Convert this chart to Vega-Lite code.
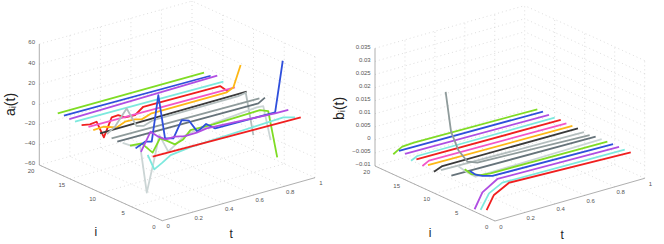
{"$schema":"https://vega.github.io/schema/vega-lite/v6.json","width":664,"height":244,"padding":0,"autosize":{"type":"fit","contains":"padding"},"background":"white","config":{"view":{"stroke":null}},
"datasets":{
"curves":[
{"p":"a","i":17,"t":0,"z":-0.5},{"p":"a","i":17,"t":0.958,"z":-1},
{"p":"a","i":16,"t":0,"z":0},{"p":"a","i":16,"t":0.961,"z":-1.4},
{"p":"a","i":15,"t":-0.005,"z":-0.4},{"p":"a","i":15,"t":0.964,"z":1.3},
{"p":"a","i":14,"t":-0.008,"z":-0.1},{"p":"a","i":14,"t":0.964,"z":-1.9},
{"p":"a","i":13,"t":-0.005,"z":-0.8},{"p":"a","i":13,"t":0.05,"z":-2.5},{"p":"a","i":13,"t":0.093,"z":-1.7},{"p":"a","i":13,"t":0.141,"z":-19.3},{"p":"a","i":13,"t":0.192,"z":-1.6},{"p":"a","i":13,"t":0.235,"z":-1.2},{"p":"a","i":13,"t":0.279,"z":-5.3},{"p":"a","i":13,"t":0.345,"z":-5.8},{"p":"a","i":13,"t":0.399,"z":0.1},{"p":"a","i":13,"t":0.465,"z":0},{"p":"a","i":13,"t":0.902,"z":-0.8},{"p":"a","i":13,"t":0.956,"z":-8.8},
{"p":"a","i":12,"t":0,"z":0},{"p":"a","i":12,"t":0.959,"z":-1.8},
{"p":"a","i":11,"t":-0.009,"z":-0.1},{"p":"a","i":11,"t":0.057,"z":0.4},{"p":"a","i":11,"t":0.144,"z":-4},{"p":"a","i":11,"t":0.199,"z":-0.7},{"p":"a","i":11,"t":0.264,"z":-1.1},{"p":"a","i":11,"t":0.308,"z":-3},{"p":"a","i":11,"t":0.373,"z":0.2},{"p":"a","i":11,"t":0.865,"z":0},{"p":"a","i":11,"t":0.908,"z":3.1},{"p":"a","i":11,"t":0.956,"z":23.2},
{"p":"a","i":10,"t":-0.005,"z":-0.8},{"p":"a","i":10,"t":0.955,"z":-0.4},
{"p":"a","i":9,"t":0,"z":1.1},{"p":"a","i":9,"t":0.052,"z":6.2},{"p":"a","i":9,"t":0.129,"z":21},{"p":"a","i":9,"t":0.194,"z":0.8},{"p":"a","i":9,"t":0.242,"z":-1},{"p":"a","i":9,"t":0.304,"z":2},{"p":"a","i":9,"t":0.86,"z":2},{"p":"a","i":9,"t":0.909,"z":3.3},{"p":"a","i":9,"t":0.959,"z":-40.8},
{"p":"a","i":8,"t":-0.01,"z":0},{"p":"a","i":8,"t":0.958,"z":-1.6},
{"p":"a","i":7,"t":-0.013,"z":-0.4},{"p":"a","i":7,"t":0.911,"z":-1.8},{"p":"a","i":7,"t":0.954,"z":2},
{"p":"a","i":6,"t":-0.018,"z":1.5},{"p":"a","i":6,"t":0.041,"z":-4},{"p":"a","i":6,"t":0.096,"z":-5.6},{"p":"a","i":6,"t":0.14,"z":-54.7},{"p":"a","i":6,"t":0.188,"z":-24.4},{"p":"a","i":6,"t":0.222,"z":-1},{"p":"a","i":6,"t":0.281,"z":-20},{"p":"a","i":6,"t":0.325,"z":-15.4},{"p":"a","i":6,"t":0.384,"z":-9},{"p":"a","i":6,"t":0.445,"z":-7},{"p":"a","i":6,"t":0.51,"z":-6.8},{"p":"a","i":6,"t":0.576,"z":-4.6},{"p":"a","i":6,"t":0.86,"z":-0.9},{"p":"a","i":6,"t":0.903,"z":-1.4},{"p":"a","i":6,"t":0.951,"z":-37.2},
{"p":"a","i":5,"t":-0.01,"z":1},{"p":"a","i":5,"t":0.066,"z":0.1},{"p":"a","i":5,"t":0.138,"z":-12.2},{"p":"a","i":5,"t":0.186,"z":-0.1},{"p":"a","i":5,"t":0.229,"z":-4.2},{"p":"a","i":5,"t":0.284,"z":-10.2},{"p":"a","i":5,"t":0.338,"z":-7.6},{"p":"a","i":5,"t":0.386,"z":-0.4},{"p":"a","i":5,"t":0.535,"z":-1.1},{"p":"a","i":5,"t":0.841,"z":0.1},{"p":"a","i":5,"t":0.895,"z":-3.2},{"p":"a","i":5,"t":0.954,"z":-51.7},
{"p":"a","i":4,"t":-0.014,"z":1.3},{"p":"a","i":4,"t":0.048,"z":5.3},{"p":"a","i":4,"t":0.092,"z":3.4},{"p":"a","i":4,"t":0.135,"z":47.8},{"p":"a","i":4,"t":0.179,"z":3},{"p":"a","i":4,"t":0.234,"z":0.7},{"p":"a","i":4,"t":0.288,"z":16.5},{"p":"a","i":4,"t":0.336,"z":13.8},{"p":"a","i":4,"t":0.391,"z":0.6},{"p":"a","i":4,"t":0.448,"z":5.8},{"p":"a","i":4,"t":0.507,"z":-1.1},{"p":"a","i":4,"t":0.9,"z":-2},{"p":"a","i":4,"t":0.95,"z":47.1},
{"p":"a","i":3,"t":-0.019,"z":0.7},{"p":"a","i":3,"t":0.044,"z":18.1},{"p":"a","i":3,"t":0.095,"z":11},{"p":"a","i":3,"t":0.143,"z":6.3},{"p":"a","i":3,"t":0.204,"z":6.4},{"p":"a","i":3,"t":0.269,"z":4.2},{"p":"a","i":3,"t":0.346,"z":4.3},{"p":"a","i":3,"t":0.411,"z":5.8},{"p":"a","i":3,"t":0.859,"z":1.6},{"p":"a","i":3,"t":0.946,"z":1.2},
{"p":"a","i":2,"t":-0.015,"z":0.3},{"p":"a","i":2,"t":0.028,"z":-15.8},{"p":"a","i":2,"t":0.081,"z":-11.4},{"p":"a","i":2,"t":0.135,"z":-6.2},{"p":"a","i":2,"t":0.273,"z":-3.8},{"p":"a","i":2,"t":0.873,"z":-0.3},{"p":"a","i":2,"t":0.95,"z":-3.5},
{"p":"a","i":1,"t":-0.023,"z":1.7},{"p":"a","i":1,"t":0.947,"z":-0.7},
{"p":"b","i":17,"t":0.002,"z":-0.0024},{"p":"b","i":17,"t":0.029,"z":-0.00145},{"p":"b","i":17,"t":0.062,"z":-0.00046},{"p":"b","i":17,"t":0.14,"z":-0.0002},{"p":"b","i":17,"t":0.964,"z":-0.0009},
{"p":"b","i":16,"t":0,"z":0},{"p":"b","i":16,"t":0.962,"z":-0.0007},
{"p":"b","i":15,"t":0,"z":-0.0001},{"p":"b","i":15,"t":0.962,"z":-0.0009},
{"p":"b","i":14,"t":0,"z":-0.00165},{"p":"b","i":14,"t":0.042,"z":-0.00055},{"p":"b","i":14,"t":0.96,"z":-0.0009},
{"p":"b","i":13,"t":-0.004,"z":0},{"p":"b","i":13,"t":0.96,"z":-0.0007},
{"p":"b","i":12,"t":-0.004,"z":-0.0015},{"p":"b","i":12,"t":0.04,"z":-0.0002},{"p":"b","i":12,"t":0.958,"z":-0.0009},
{"p":"b","i":11,"t":-0.007,"z":-0.0001},{"p":"b","i":11,"t":0.958,"z":-0.00085},
{"p":"b","i":10,"t":-0.007,"z":-0.0016},{"p":"b","i":10,"t":0.049,"z":-0.0003},{"p":"b","i":10,"t":0.955,"z":-0.00066},
{"p":"b","i":9,"t":0,"z":0},{"p":"b","i":9,"t":0.955,"z":-0.0011},
{"p":"b","i":8,"t":-0.009,"z":0.0311},{"p":"b","i":8,"t":0.027,"z":0.0153},{"p":"b","i":8,"t":0.076,"z":0.0074},{"p":"b","i":8,"t":0.136,"z":0.0021},{"p":"b","i":8,"t":0.203,"z":0.0006},{"p":"b","i":8,"t":0.953,"z":-0.0011},
{"p":"b","i":7,"t":-0.011,"z":0.0002},{"p":"b","i":7,"t":0.953,"z":-0.00066},
{"p":"b","i":6,"t":-0.007,"z":0.0048},{"p":"b","i":6,"t":0.056,"z":0.0013},{"p":"b","i":6,"t":0.111,"z":-0.0012},{"p":"b","i":6,"t":0.189,"z":-0.0012},{"p":"b","i":6,"t":0.953,"z":-0.0006},
{"p":"b","i":5,"t":-0.002,"z":0.0046},{"p":"b","i":5,"t":0.042,"z":0.002},{"p":"b","i":5,"t":0.105,"z":0.0006},{"p":"b","i":5,"t":0.171,"z":0.0002},{"p":"b","i":5,"t":0.951,"z":-0.0004},
{"p":"b","i":4,"t":-0.007,"z":0.005},{"p":"b","i":4,"t":0.031,"z":0.003},{"p":"b","i":4,"t":0.076,"z":0.0018},{"p":"b","i":4,"t":0.143,"z":0.0007},{"p":"b","i":4,"t":0.949,"z":-0.00035},
{"p":"b","i":3,"t":-0.016,"z":-0.0084},{"p":"b","i":3,"t":0.036,"z":-0.0028},{"p":"b","i":3,"t":0.136,"z":0.0007},{"p":"b","i":3,"t":0.949,"z":-0.00033},
{"p":"b","i":2,"t":-0.016,"z":-0.0076},{"p":"b","i":2,"t":0.04,"z":-0.0022},{"p":"b","i":2,"t":0.129,"z":0.00046},{"p":"b","i":2,"t":0.947,"z":-0.00027},
{"p":"b","i":1,"t":-0.016,"z":-0.0066},{"p":"b","i":1,"t":0.033,"z":-0.00164},{"p":"b","i":1,"t":0.134,"z":0.0014},{"p":"b","i":1,"t":0.947,"z":-0.00023}
],
"frame":[
{"p":"a","t":0,"i":0,"z":-60,"t2":0,"i2":20,"z2":-60},{"p":"a","t":0.2,"i":0,"z":-60,"t2":0.2,"i2":20,"z2":-60},{"p":"a","t":0.4,"i":0,"z":-60,"t2":0.4,"i2":20,"z2":-60},{"p":"a","t":0.6,"i":0,"z":-60,"t2":0.6,"i2":20,"z2":-60},{"p":"a","t":0.8,"i":0,"z":-60,"t2":0.8,"i2":20,"z2":-60},{"p":"a","t":1,"i":0,"z":-60,"t2":1,"i2":20,"z2":-60},
{"p":"a","t":0,"i":5,"z":-60,"t2":1,"i2":5,"z2":-60},{"p":"a","t":0,"i":10,"z":-60,"t2":1,"i2":10,"z2":-60},{"p":"a","t":0,"i":15,"z":-60,"t2":1,"i2":15,"z2":-60},{"p":"a","t":0,"i":20,"z":-60,"t2":1,"i2":20,"z2":-60},
{"p":"a","t":0.2,"i":20,"z":-60,"t2":0.2,"i2":20,"z2":60},{"p":"a","t":0.4,"i":20,"z":-60,"t2":0.4,"i2":20,"z2":60},{"p":"a","t":0.6,"i":20,"z":-60,"t2":0.6,"i2":20,"z2":60},{"p":"a","t":0.8,"i":20,"z":-60,"t2":0.8,"i2":20,"z2":60},{"p":"a","t":1,"i":20,"z":-60,"t2":1,"i2":20,"z2":60},
{"p":"a","t":0,"i":20,"z":-40,"t2":1,"i2":20,"z2":-40},{"p":"a","t":0,"i":20,"z":-20,"t2":1,"i2":20,"z2":-20},{"p":"a","t":0,"i":20,"z":0,"t2":1,"i2":20,"z2":0},{"p":"a","t":0,"i":20,"z":20,"t2":1,"i2":20,"z2":20},{"p":"a","t":0,"i":20,"z":40,"t2":1,"i2":20,"z2":40},{"p":"a","t":0,"i":20,"z":60,"t2":1,"i2":20,"z2":60},
{"p":"a","t":1,"i":0,"z":-60,"t2":1,"i2":0,"z2":60},{"p":"a","t":1,"i":5,"z":-60,"t2":1,"i2":5,"z2":60},{"p":"a","t":1,"i":10,"z":-60,"t2":1,"i2":10,"z2":60},{"p":"a","t":1,"i":15,"z":-60,"t2":1,"i2":15,"z2":60},
{"p":"a","t":1,"i":0,"z":-40,"t2":1,"i2":20,"z2":-40},{"p":"a","t":1,"i":0,"z":-20,"t2":1,"i2":20,"z2":-20},{"p":"a","t":1,"i":0,"z":0,"t2":1,"i2":20,"z2":0},{"p":"a","t":1,"i":0,"z":20,"t2":1,"i2":20,"z2":20},{"p":"a","t":1,"i":0,"z":40,"t2":1,"i2":20,"z2":40},{"p":"a","t":1,"i":0,"z":60,"t2":1,"i2":20,"z2":60},
{"p":"b","t":0,"i":0,"z":-0.01,"t2":0,"i2":20,"z2":-0.01},{"p":"b","t":0.2,"i":0,"z":-0.01,"t2":0.2,"i2":20,"z2":-0.01},{"p":"b","t":0.4,"i":0,"z":-0.01,"t2":0.4,"i2":20,"z2":-0.01},{"p":"b","t":0.6,"i":0,"z":-0.01,"t2":0.6,"i2":20,"z2":-0.01},{"p":"b","t":0.8,"i":0,"z":-0.01,"t2":0.8,"i2":20,"z2":-0.01},{"p":"b","t":1,"i":0,"z":-0.01,"t2":1,"i2":20,"z2":-0.01},
{"p":"b","t":0,"i":5,"z":-0.01,"t2":1,"i2":5,"z2":-0.01},{"p":"b","t":0,"i":10,"z":-0.01,"t2":1,"i2":10,"z2":-0.01},{"p":"b","t":0,"i":15,"z":-0.01,"t2":1,"i2":15,"z2":-0.01},{"p":"b","t":0,"i":20,"z":-0.01,"t2":1,"i2":20,"z2":-0.01},
{"p":"b","t":0.2,"i":20,"z":-0.01,"t2":0.2,"i2":20,"z2":0.035},{"p":"b","t":0.4,"i":20,"z":-0.01,"t2":0.4,"i2":20,"z2":0.035},{"p":"b","t":0.6,"i":20,"z":-0.01,"t2":0.6,"i2":20,"z2":0.035},{"p":"b","t":0.8,"i":20,"z":-0.01,"t2":0.8,"i2":20,"z2":0.035},{"p":"b","t":1,"i":20,"z":-0.01,"t2":1,"i2":20,"z2":0.035},
{"p":"b","t":0,"i":20,"z":-0.005,"t2":1,"i2":20,"z2":-0.005},{"p":"b","t":0,"i":20,"z":0,"t2":1,"i2":20,"z2":0},{"p":"b","t":0,"i":20,"z":0.005,"t2":1,"i2":20,"z2":0.005},{"p":"b","t":0,"i":20,"z":0.01,"t2":1,"i2":20,"z2":0.01},{"p":"b","t":0,"i":20,"z":0.015,"t2":1,"i2":20,"z2":0.015},{"p":"b","t":0,"i":20,"z":0.02,"t2":1,"i2":20,"z2":0.02},{"p":"b","t":0,"i":20,"z":0.025,"t2":1,"i2":20,"z2":0.025},{"p":"b","t":0,"i":20,"z":0.03,"t2":1,"i2":20,"z2":0.03},{"p":"b","t":0,"i":20,"z":0.035,"t2":1,"i2":20,"z2":0.035},
{"p":"b","t":1,"i":0,"z":-0.01,"t2":1,"i2":0,"z2":0.035},{"p":"b","t":1,"i":5,"z":-0.01,"t2":1,"i2":5,"z2":0.035},{"p":"b","t":1,"i":10,"z":-0.01,"t2":1,"i2":10,"z2":0.035},{"p":"b","t":1,"i":15,"z":-0.01,"t2":1,"i2":15,"z2":0.035},
{"p":"b","t":1,"i":0,"z":-0.005,"t2":1,"i2":20,"z2":-0.005},{"p":"b","t":1,"i":0,"z":0,"t2":1,"i2":20,"z2":0},{"p":"b","t":1,"i":0,"z":0.005,"t2":1,"i2":20,"z2":0.005},{"p":"b","t":1,"i":0,"z":0.01,"t2":1,"i2":20,"z2":0.01},{"p":"b","t":1,"i":0,"z":0.015,"t2":1,"i2":20,"z2":0.015},{"p":"b","t":1,"i":0,"z":0.02,"t2":1,"i2":20,"z2":0.02},{"p":"b","t":1,"i":0,"z":0.025,"t2":1,"i2":20,"z2":0.025},{"p":"b","t":1,"i":0,"z":0.03,"t2":1,"i2":20,"z2":0.03},{"p":"b","t":1,"i":0,"z":0.035,"t2":1,"i2":20,"z2":0.035}
],
"axes":[
{"p":"a","t":0,"i":20,"z":-60,"t2":0,"i2":20,"z2":60},{"p":"a","t":0,"i":0,"z":-60,"t2":0,"i2":20,"z2":-60},{"p":"a","t":0,"i":0,"z":-60,"t2":1,"i2":0,"z2":-60},
{"p":"b","t":0,"i":20,"z":-0.01,"t2":0,"i2":20,"z2":0.035},{"p":"b","t":0,"i":0,"z":-0.01,"t2":0,"i2":20,"z2":-0.01},{"p":"b","t":0,"i":0,"z":-0.01,"t2":1,"i2":0,"z2":-0.01}
],
"labels":[
{"p":"a","axis":"z","t":0,"i":20,"z":60,"label":"60"},{"p":"a","axis":"z","t":0,"i":20,"z":40,"label":"40"},{"p":"a","axis":"z","t":0,"i":20,"z":20,"label":"20"},{"p":"a","axis":"z","t":0,"i":20,"z":0,"label":"0"},{"p":"a","axis":"z","t":0,"i":20,"z":-20,"label":"−20"},{"p":"a","axis":"z","t":0,"i":20,"z":-40,"label":"−40"},{"p":"a","axis":"z","t":0,"i":20,"z":-60,"label":"−60"},
{"p":"a","axis":"i","t":0,"i":20,"z":-60,"label":"20"},{"p":"a","axis":"i","t":0,"i":15,"z":-60,"label":"15"},{"p":"a","axis":"i","t":0,"i":10,"z":-60,"label":"10"},{"p":"a","axis":"i","t":0,"i":5,"z":-60,"label":"5"},{"p":"a","axis":"i","t":0,"i":0,"z":-60,"label":"0"},
{"p":"a","axis":"t","t":0,"i":0,"z":-60,"label":"0"},{"p":"a","axis":"t","t":0.2,"i":0,"z":-60,"label":"0.2"},{"p":"a","axis":"t","t":0.4,"i":0,"z":-60,"label":"0.4"},{"p":"a","axis":"t","t":0.6,"i":0,"z":-60,"label":"0.6"},{"p":"a","axis":"t","t":0.8,"i":0,"z":-60,"label":"0.8"},{"p":"a","axis":"t","t":1,"i":0,"z":-60,"label":"1"},
{"p":"b","axis":"z","t":0,"i":20,"z":0.035,"label":"0.035"},{"p":"b","axis":"z","t":0,"i":20,"z":0.03,"label":"0.03"},{"p":"b","axis":"z","t":0,"i":20,"z":0.025,"label":"0.025"},{"p":"b","axis":"z","t":0,"i":20,"z":0.02,"label":"0.02"},{"p":"b","axis":"z","t":0,"i":20,"z":0.015,"label":"0.015"},{"p":"b","axis":"z","t":0,"i":20,"z":0.01,"label":"0.01"},{"p":"b","axis":"z","t":0,"i":20,"z":0.005,"label":"0.005"},{"p":"b","axis":"z","t":0,"i":20,"z":0,"label":"0"},{"p":"b","axis":"z","t":0,"i":20,"z":-0.005,"label":"−0.005"},{"p":"b","axis":"z","t":0,"i":20,"z":-0.01,"label":"−0.01"},
{"p":"b","axis":"i","t":0,"i":20,"z":-0.01,"label":"20"},{"p":"b","axis":"i","t":0,"i":15,"z":-0.01,"label":"15"},{"p":"b","axis":"i","t":0,"i":10,"z":-0.01,"label":"10"},{"p":"b","axis":"i","t":0,"i":5,"z":-0.01,"label":"5"},{"p":"b","axis":"i","t":0,"i":0,"z":-0.01,"label":"0"},
{"p":"b","axis":"t","t":0,"i":0,"z":-0.01,"label":"0"},{"p":"b","axis":"t","t":0.2,"i":0,"z":-0.01,"label":"0.2"},{"p":"b","axis":"t","t":0.4,"i":0,"z":-0.01,"label":"0.4"},{"p":"b","axis":"t","t":0.6,"i":0,"z":-0.01,"label":"0.6"},{"p":"b","axis":"t","t":0.8,"i":0,"z":-0.01,"label":"0.8"},{"p":"b","axis":"t","t":1,"i":0,"z":-0.01,"label":"1"},
{"p":"a","axis":"T","t":0.5,"i":0,"z":-60,"label":"t"},{"p":"b","axis":"T","t":0.5,"i":0,"z":-0.01,"label":"t"},
{"p":"a","axis":"I","t":0,"i":10,"z":-60,"label":"i"},{"p":"b","axis":"I","t":0,"i":10,"z":-0.01,"label":"i"},
{"p":"a","axis":"Z","t":0,"i":20,"z":0,"label":"aᵢ(t)"},{"p":"b","axis":"ZB","t":0,"i":20,"z":0.012,"label":"bᵢ(t)"}
]},
"layer":[
{"data":{"name":"frame"},"transform":[
{"calculate":"datum.p=='a'?162.3+152.7*datum.t-6.15*datum.i:495+149.7*datum.t-6*datum.i","as":"px"},
{"calculate":"datum.p=='a'?220.7-43*datum.t-2.785*datum.i-1.008*(datum.z+60):221-42.7*datum.t-2.75*datum.i-2615*(datum.z+0.01)","as":"py"},
{"calculate":"datum.p=='a'?162.3+152.7*datum.t2-6.15*datum.i2:495+149.7*datum.t2-6*datum.i2","as":"px2"},
{"calculate":"datum.p=='a'?220.7-43*datum.t2-2.785*datum.i2-1.008*(datum.z2+60):221-42.7*datum.t2-2.75*datum.i2-2615*(datum.z2+0.01)","as":"py2"}],
"mark":{"type":"rule","stroke":"#cfcfcf","strokeWidth":0.7,"strokeDash":[1,3]},
"encoding":{"x":{"field":"px","type":"quantitative","scale":{"domain":[0,664],"nice":false,"zero":false},"axis":null},"y":{"field":"py","type":"quantitative","scale":{"domain":[244,0],"nice":false,"zero":false},"axis":null},"x2":{"field":"px2"},"y2":{"field":"py2"}}},
{"data":{"name":"axes"},"transform":[
{"calculate":"datum.p=='a'?162.3+152.7*datum.t-6.15*datum.i:495+149.7*datum.t-6*datum.i","as":"px"},
{"calculate":"datum.p=='a'?220.7-43*datum.t-2.785*datum.i-1.008*(datum.z+60):221-42.7*datum.t-2.75*datum.i-2615*(datum.z+0.01)","as":"py"},
{"calculate":"datum.p=='a'?162.3+152.7*datum.t2-6.15*datum.i2:495+149.7*datum.t2-6*datum.i2","as":"px2"},
{"calculate":"datum.p=='a'?220.7-43*datum.t2-2.785*datum.i2-1.008*(datum.z2+60):221-42.7*datum.t2-2.75*datum.i2-2615*(datum.z2+0.01)","as":"py2"}],
"mark":{"type":"rule","stroke":"#8c8c8c","strokeWidth":0.7},
"encoding":{"x":{"field":"px","type":"quantitative","scale":{"domain":[0,664],"nice":false,"zero":false},"axis":null},"y":{"field":"py","type":"quantitative","scale":{"domain":[244,0],"nice":false,"zero":false},"axis":null},"x2":{"field":"px2"},"y2":{"field":"py2"}}},
{"data":{"name":"curves"},"transform":[
{"calculate":"datum.p=='a'?162.3+152.7*datum.t-6.15*datum.i:495+149.7*datum.t-6*datum.i","as":"px"},
{"calculate":"datum.p=='a'?220.7-43*datum.t-2.785*datum.i-1.008*(datum.z+60):221-42.7*datum.t-2.75*datum.i-2615*(datum.z+0.01)","as":"py"}],
"mark":{"type":"line","strokeWidth":1.8,"strokeJoin":"round"},
"encoding":{"x":{"field":"px","type":"quantitative","scale":{"domain":[0,664],"nice":false,"zero":false},"axis":null},"y":{"field":"py","type":"quantitative","scale":{"domain":[244,0],"nice":false,"zero":false},"axis":null},"detail":{"field":"p"},
"color":{"field":"i","type":"nominal","legend":null,"scale":{"domain":[17,16,15,14,13,12,11,10,9,8,7,6,5,4,3,2,1],"range":["#7fdc24","#2f4fdc","#b04ee2","#7de9de","#f01f1f","#f256c9","#fdb716","#3a3a3a","#b4bebe","#8f9b9b","#66737a","#cbd5d5","#7fdc24","#2f4fdc","#b04ee2","#7de9de","#f01f1f"]}}}},
{"data":{"name":"labels"},"transform":[{"filter":"datum.axis=='z'"},
{"calculate":"datum.p=='a'?162.3+152.7*datum.t-6.15*datum.i:495+149.7*datum.t-6*datum.i","as":"px"},
{"calculate":"datum.p=='a'?220.7-43*datum.t-2.785*datum.i-1.008*(datum.z+60):221-42.7*datum.t-2.75*datum.i-2615*(datum.z+0.01)","as":"py"}],
"mark":{"type":"text","align":"right","baseline":"middle","dx":-4.3,"dy":-1.6,"font":"Liberation Sans","fontSize":6,"fill":"#555"},
"encoding":{"x":{"field":"px","type":"quantitative","scale":{"domain":[0,664],"nice":false,"zero":false},"axis":null},"y":{"field":"py","type":"quantitative","scale":{"domain":[244,0],"nice":false,"zero":false},"axis":null},"text":{"field":"label"}}},
{"data":{"name":"labels"},"transform":[{"filter":"datum.axis=='i'"},
{"calculate":"datum.p=='a'?162.3+152.7*datum.t-6.15*datum.i:495+149.7*datum.t-6*datum.i","as":"px"},
{"calculate":"datum.p=='a'?220.7-43*datum.t-2.785*datum.i-1.008*(datum.z+60):221-42.7*datum.t-2.75*datum.i-2615*(datum.z+0.01)","as":"py"}],
"mark":{"type":"text","align":"center","baseline":"middle","dx":-8.3,"dy":5.8,"font":"Liberation Sans","fontSize":6,"fill":"#555"},
"encoding":{"x":{"field":"px","type":"quantitative","scale":{"domain":[0,664],"nice":false,"zero":false},"axis":null},"y":{"field":"py","type":"quantitative","scale":{"domain":[244,0],"nice":false,"zero":false},"axis":null},"text":{"field":"label"}}},
{"data":{"name":"labels"},"transform":[{"filter":"datum.axis=='t'"},
{"calculate":"datum.p=='a'?162.3+152.7*datum.t-6.15*datum.i:495+149.7*datum.t-6*datum.i","as":"px"},
{"calculate":"datum.p=='a'?220.7-43*datum.t-2.785*datum.i-1.008*(datum.z+60):221-42.7*datum.t-2.75*datum.i-2615*(datum.z+0.01)","as":"py"}],
"mark":{"type":"text","align":"center","baseline":"middle","dx":5.8,"dy":5.5,"font":"Liberation Sans","fontSize":6,"fill":"#555"},
"encoding":{"x":{"field":"px","type":"quantitative","scale":{"domain":[0,664],"nice":false,"zero":false},"axis":null},"y":{"field":"py","type":"quantitative","scale":{"domain":[244,0],"nice":false,"zero":false},"axis":null},"text":{"field":"label"}}},
{"data":{"name":"labels"},"transform":[{"filter":"datum.axis=='T'"},
{"calculate":"datum.p=='a'?162.3+152.7*datum.t-6.15*datum.i:495+149.7*datum.t-6*datum.i","as":"px"},
{"calculate":"datum.p=='a'?220.7-43*datum.t-2.785*datum.i-1.008*(datum.z+60):221-42.7*datum.t-2.75*datum.i-2615*(datum.z+0.01)","as":"py"}],
"mark":{"type":"text","align":"center","baseline":"middle","dx":-7.6,"dy":35,"font":"Liberation Sans","fontSize":12,"fill":"#222"},
"encoding":{"x":{"field":"px","type":"quantitative","scale":{"domain":[0,664],"nice":false,"zero":false},"axis":null},"y":{"field":"py","type":"quantitative","scale":{"domain":[244,0],"nice":false,"zero":false},"axis":null},"text":{"field":"label"}}},
{"data":{"name":"labels"},"transform":[{"filter":"datum.axis=='I'"},
{"calculate":"datum.p=='a'?162.3+152.7*datum.t-6.15*datum.i:495+149.7*datum.t-6*datum.i","as":"px"},
{"calculate":"datum.p=='a'?220.7-43*datum.t-2.785*datum.i-1.008*(datum.z+60):221-42.7*datum.t-2.75*datum.i-2615*(datum.z+0.01)","as":"py"}],
"mark":{"type":"text","align":"center","baseline":"middle","dx":-5,"dy":39,"font":"Liberation Sans","fontSize":12,"fill":"#222"},
"encoding":{"x":{"field":"px","type":"quantitative","scale":{"domain":[0,664],"nice":false,"zero":false},"axis":null},"y":{"field":"py","type":"quantitative","scale":{"domain":[244,0],"nice":false,"zero":false},"axis":null},"text":{"field":"label"}}},
{"data":{"name":"labels"},"transform":[{"filter":"datum.axis=='Z'"},
{"calculate":"datum.p=='a'?162.3+152.7*datum.t-6.15*datum.i:495+149.7*datum.t-6*datum.i","as":"px"},
{"calculate":"datum.p=='a'?220.7-43*datum.t-2.785*datum.i-1.008*(datum.z+60):221-42.7*datum.t-2.75*datum.i-2615*(datum.z+0.01)","as":"py"}],
"mark":{"type":"text","align":"center","baseline":"middle","angle":270,"dy":-28,"font":"Liberation Sans","fontSize":14,"fill":"#222"},
"encoding":{"x":{"field":"px","type":"quantitative","scale":{"domain":[0,664],"nice":false,"zero":false},"axis":null},"y":{"field":"py","type":"quantitative","scale":{"domain":[244,0],"nice":false,"zero":false},"axis":null},"text":{"field":"label"}}},
{"data":{"name":"labels"},"transform":[{"filter":"datum.axis=='ZB'"},
{"calculate":"datum.p=='a'?162.3+152.7*datum.t-6.15*datum.i:495+149.7*datum.t-6*datum.i","as":"px"},
{"calculate":"datum.p=='a'?220.7-43*datum.t-2.785*datum.i-1.008*(datum.z+60):221-42.7*datum.t-2.75*datum.i-2615*(datum.z+0.01)","as":"py"}],
"mark":{"type":"text","align":"center","baseline":"middle","angle":270,"dy":-35,"font":"Liberation Sans","fontSize":14,"fill":"#222"},
"encoding":{"x":{"field":"px","type":"quantitative","scale":{"domain":[0,664],"nice":false,"zero":false},"axis":null},"y":{"field":"py","type":"quantitative","scale":{"domain":[244,0],"nice":false,"zero":false},"axis":null},"text":{"field":"label"}}}
]}
